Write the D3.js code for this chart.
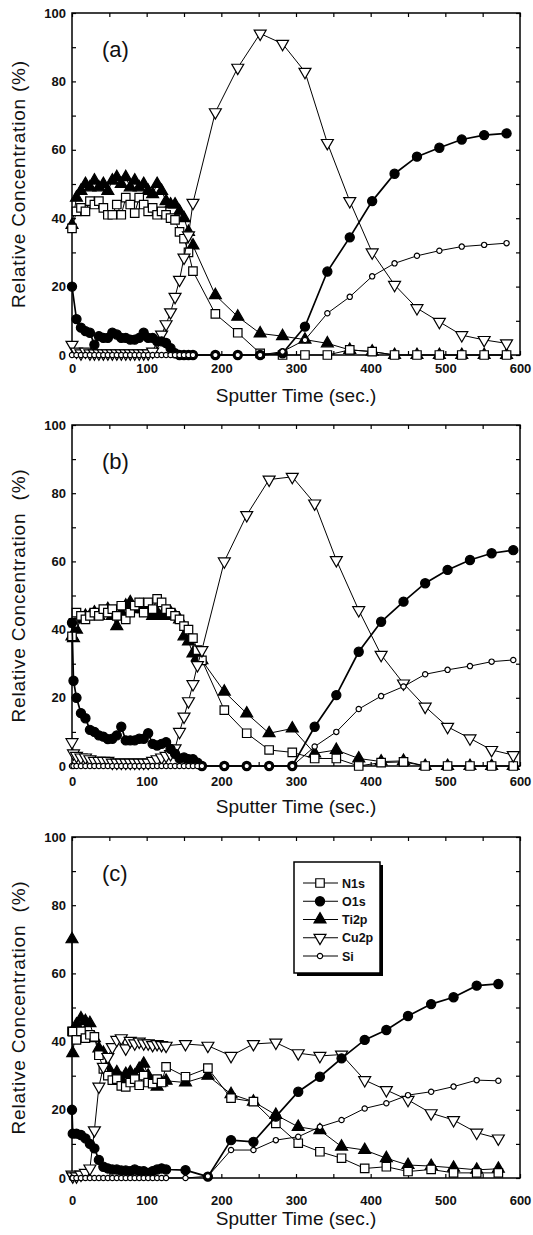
<!DOCTYPE html>
<html>
<head>
<meta charset="utf-8">
<script src="https://cdn.jsdelivr.net/npm/d3@7"></script>
<style>
  body { margin: 0; background: #fff; }
  svg text { font-family: "Liberation Sans", Arial, Helvetica, sans-serif; fill: #111; }
</style>
</head>
<body>
<svg id="chart" width="533" height="1235"></svg>
<script>
// series names, legend order
const seriesNames = ["N1s", "O1s", "Ti2p", "Cu2p", "Si"];
const xTicks = [0, 100, 200, 300, 400, 500, 600];
const xMinor = [50, 150, 250, 350, 450, 550];
const yTicks = [0, 20, 40, 60, 80, 100];
const yMinor = [10, 30, 50, 70, 90];

// panel (a)
const timeA = [0,6,12,18,24,30,36,42,48,54,60,66,72,78,84,90,96,102,108,114,120,126,132,138,144,150,156,162,
  192,222,252,282,312,342,372,402,432,462,492,522,552,582];
const n1sA = [37,42,43,42,45,44,45,43,41,41,44,41,46,44,41.5,46,44,42,43,41,42,41,40,39.5,36,34,30,24.5,
  12,6.5,0.5,0,0,0,1.5,1,0,0,0,0,0,0];
const o1sA = [20,10.5,8,7,6.5,3,5.5,5,5,6.5,6,5,5,4.5,4.5,5,6.5,5,5,4,4,3.5,2,0.5,0,0,0,0,
  0,0,0,0.5,8.3,24.4,34.4,45,53,58,60.6,63,64.3,64.8];
const ti2pA = [38,46,48,50,49,51,49,50,48,51,52,50,52,49,51,49,50,48,47,50,48,45,44,44,42,40,36,32,
  17.5,11.2,6.3,5.5,4.5,3.4,1.5,1,0,0,0,0,0,0];
const cu2pA = [3,1,0.5,1,0.5,0.5,0.5,0.5,0.5,0.5,0.5,0.5,0.5,0.5,0.5,0.5,0.5,0.5,1,4,6,9,12.5,17,22,28.5,35,44.5,
  71,84,94,91,82.8,62,45,30,20.5,13.7,9.7,5.8,4.4,3.4];
const siA = [0,0,0,0,0,0,0,0,0,0,0,0,0,0,0,0,0,0,0,0,0,0,0,0,0,0,0,0,
  0,0,0,1,4.4,12.2,17,23,26.8,29,30.5,31.7,32.2,32.7];

// panel (b)
const timeB = [0,2,6,12,18,24,30,36,42,48,54,60,66,72,78,84,90,96,102,108,114,120,126,132,138,144,150,156,162,168,174,
  204,234,264,295,325,354,384,414,444,473,503,533,562,591];
const n1sB = [38,42,45,44,43,44,45,44,46,45,46,44,47,43,45,47,48,45,48,46,49,48,46,45,44,43,41,40,37.5,34,31,
  16.4,9.6,4.7,4,2.2,2.2,0,1,1.2,0,0,0,0,0];
const o1sB = [42,25,20,15.5,14,10.6,10,9,8.6,7.9,8,9,11.5,7.5,7.5,7.5,8,8,9.6,6.5,6,6.5,7,5,3.6,2.2,2.5,2,2,1,0,
  0,0,0,0,11.5,20.8,33.5,42.3,48.2,53.6,57.5,60.4,62.4,63.3];
const ti2pB = [38,37.5,40,43,44,44,45,44,45,46,44,41,45,47,48,46,47,46,45,44,45,44,44,45,44,43,38,36.5,33,32,31,
  21.8,15.4,9.6,11,3.7,4.7,2.2,1.3,1.5,0,0,0,0,0];
const cu2pB = [7,3.7,3,2.5,2.5,2,1.5,1.5,1.5,1.5,1,1,1,1,1,1,1,1,1,1.5,2,2.5,3,3.5,5.2,10,14.5,19,24,29.6,34,
  60,73.6,84,84.8,77,60.4,45.7,32.6,24.2,17.4,11.5,8.1,4.7,3.2];
const siB = [0,0,0,0,0,0,0,0,0,0,0,0,0,0,0,0,0,0,0,0,0,0,0,0,0,0,0,0,0,0,0,
  0,0,0,0,5.7,10,16.7,20.5,23.3,26.9,28.2,29.3,30.6,31.1];

// panel (c)
const timeC = [0,1,6,12,18,24,30,36,42,48,54,60,66,72,78,84,90,96,102,108,114,120,126,
  152,182,213,243,273,303,332,361,392,421,450,481,511,542,571];
const n1sC = [43,42.9,40.5,43,41,42,41.4,36,32,30,28.7,29,27,26.7,28,29,27.2,30,28,27.7,29,28,32.6,
  29.7,32.2,23.4,22.4,16,10.2,7.7,5.8,2.8,3.3,1.9,2.5,1.5,1.5,1.5];
const o1sC = [20,13,13,12.6,11.6,10,8.7,5.3,3.3,2.8,2.5,2.5,2.2,2.2,2,2.5,2,2,1.5,2,2.5,2.8,2.5,
  2.3,0.4,11.1,10.6,18,25.3,29.7,35.1,40.5,43.4,47.5,51,53,56.4,56.9];
const ti2pC = [70,36.6,45,46.8,46,45.4,41,38,36.7,32.5,30,31,29,30.5,31,30,32,33.5,30,28,26.8,28,28.5,
  28,30,24.6,22.4,18.5,15,14,9.2,8.2,5.8,3.8,3.5,3,2.4,2.7];
const cu2pC = [1,0.5,0.5,1,1.5,2.8,14,26.8,32.6,35.5,38.4,40.5,41,38,40.2,39.5,40,39.5,39.5,39,39.3,39,38.8,
  39.3,38.8,35.8,39.3,39.7,36.6,35.8,36.2,28.7,25.8,22.9,19,17,13.3,11.6];
const siC = [0,0,0,0,0,0,0,0,0,0,0,0,0,0,0,0,0,0,0,0,0,0,0,
  0,0.5,8.2,8.2,11.1,12.1,15,17,20.4,21.9,24.3,25.3,26.8,28.7,28.5];

const panels = [
  { label: "(a)", yTitle: "Relative Concentration (%)", top: 13, bottom: 355, tickPad: 9,
    time: timeA, values: [n1sA, o1sA, ti2pA, cu2pA, siA], legend: false },
  { label: "(b)", yTitle: "Relative Concentration  (%)", top: 425, bottom: 766, tickPad: 11,
    time: timeB, values: [n1sB, o1sB, ti2pB, cu2pB, siB], legend: false },
  { label: "(c)", yTitle: "Relative Concentration  (%)", top: 837, bottom: 1178, tickPad: 18,
    time: timeC, values: [n1sC, o1sC, ti2pC, cu2pC, siC], legend: true }
];

// marker look per series
const styles = {
  N1s:  { type: d3.symbolSquare,   size: 72, fill: "#fff", rot: 0,   lw: 1 },
  O1s:  { type: d3.symbolCircle,   size: 66, fill: "#000", rot: 0,   lw: 1.7 },
  Ti2p: { type: d3.symbolTriangle, size: 62, fill: "#000", rot: 0,   lw: 1 },
  Cu2p: { type: d3.symbolTriangle, size: 62, fill: "#fff", rot: 180, lw: 1 },
  Si:   { type: d3.symbolCircle,   size: 22, fill: "#fff", rot: 0,   lw: 1 }
};
const drawOrder = ["Ti2p", "N1s", "Cu2p", "O1s", "Si"];

const svg = d3.select("#chart");
const left = 72, right = 520;
const x = d3.scaleLinear().domain([0, 600]).range([left, right]);

panels.forEach(p => {
  const y = d3.scaleLinear().domain([0, 100]).range([p.bottom, p.top]);
  const g = svg.append("g");

  // axes with inward ticks
  const tick = 4;
  g.append("g").attr("transform", `translate(0,${p.bottom})`)
    .call(d3.axisBottom(x).tickValues(xTicks).tickSize(-tick).tickPadding(p.tickPad))
    .call(a => a.select(".domain").remove())
    .selectAll("text").attr("font-size", 13).attr("font-weight", "bold");
  g.append("g").attr("transform", `translate(0,${p.bottom})`)
    .call(d3.axisBottom(x).tickValues(xMinor).tickSize(-tick).tickFormat(""))
    .call(a => a.select(".domain").remove());
  g.append("g").attr("transform", `translate(0,${p.top})`)
    .call(d3.axisTop(x).tickValues(xTicks.concat(xMinor)).tickSize(-tick).tickFormat(""))
    .call(a => a.select(".domain").remove());
  g.append("g").attr("transform", `translate(${left},0)`)
    .call(d3.axisLeft(y).tickValues(yTicks).tickSize(-tick).tickPadding(6))
    .call(a => a.select(".domain").remove())
    .selectAll("text").attr("font-size", 13).attr("font-weight", "bold");
  g.append("g").attr("transform", `translate(${left},0)`)
    .call(d3.axisLeft(y).tickValues(yMinor).tickSize(-tick).tickFormat(""))
    .call(a => a.select(".domain").remove());
  g.append("g").attr("transform", `translate(${right},0)`)
    .call(d3.axisRight(y).tickValues(yTicks.concat(yMinor)).tickSize(-tick).tickFormat(""))
    .call(a => a.select(".domain").remove());
  g.selectAll(".tick line").attr("stroke", "#000").attr("stroke-width", 1.2);

  g.append("rect")
    .attr("x", left).attr("y", p.top)
    .attr("width", right - left).attr("height", p.bottom - p.top)
    .attr("fill", "none").attr("stroke", "#000").attr("stroke-width", 1.5);

  // series
  drawOrder.forEach(name => {
    const i = seriesNames.indexOf(name);
    const st = styles[name];
    const pts = p.time.map((t, j) => ({ t, v: p.values[i][j] }));
    const line = d3.line().x(d => x(d.t)).y(d => y(d.v));
    g.append("path").datum(pts)
      .attr("fill", "none").attr("stroke", "#000")
      .attr("stroke-width", st.lw).attr("d", line);
    g.selectAll(null).data(pts).enter().append("path")
      .attr("d", d3.symbol().type(st.type).size(st.size))
      .attr("transform", d => `translate(${x(d.t)},${y(d.v)}) rotate(${st.rot})`)
      .attr("fill", st.fill).attr("stroke", "#000").attr("stroke-width", 1.2);
  });

  // panel label
  g.append("text").attr("x", 102).attr("y", p.top + 44)
    .attr("font-size", 22).text(p.label);

  // axis titles
  g.append("text")
    .attr("transform", `translate(25,${(p.top + p.bottom) / 2}) rotate(-90)`)
    .attr("text-anchor", "middle").attr("font-size", 19).attr("letter-spacing", 0.8)
    .style("white-space", "pre").text(p.yTitle);
  g.append("text")
    .attr("x", (left + right) / 2).attr("y", p.bottom + 47)
    .attr("text-anchor", "middle").attr("font-size", 19)
    .text("Sputter Time (sec.)");

  if (p.legend) {
    const lx = 294, ly = 862, lw = 86, lh = 111;
    g.append("rect").attr("x", lx + 3).attr("y", ly + 3).attr("width", lw).attr("height", lh).attr("fill", "#000");
    g.append("rect").attr("x", lx).attr("y", ly).attr("width", lw).attr("height", lh)
      .attr("fill", "#fff").attr("stroke", "#000").attr("stroke-width", 1.5);
    const rowY = d3.scalePoint().domain(seriesNames).range([ly + 21, ly + 94]);
    seriesNames.forEach(name => {
      const st = styles[name];
      const yy = rowY(name);
      g.append("line").attr("x1", lx + 9).attr("x2", lx + 44).attr("y1", yy).attr("y2", yy)
        .attr("stroke", "#000").attr("stroke-width", 1);
      g.append("path").attr("d", d3.symbol().type(st.type).size(st.size)())
        .attr("transform", `translate(${lx + 26},${yy}) rotate(${st.rot})`)
        .attr("fill", st.fill).attr("stroke", "#000").attr("stroke-width", 1.2);
      g.append("text").attr("x", lx + 48).attr("y", yy + 4.5)
        .attr("font-size", 12.5).attr("font-weight", "bold").text(name);
    });
  }
});
</script>
</body>
</html>
